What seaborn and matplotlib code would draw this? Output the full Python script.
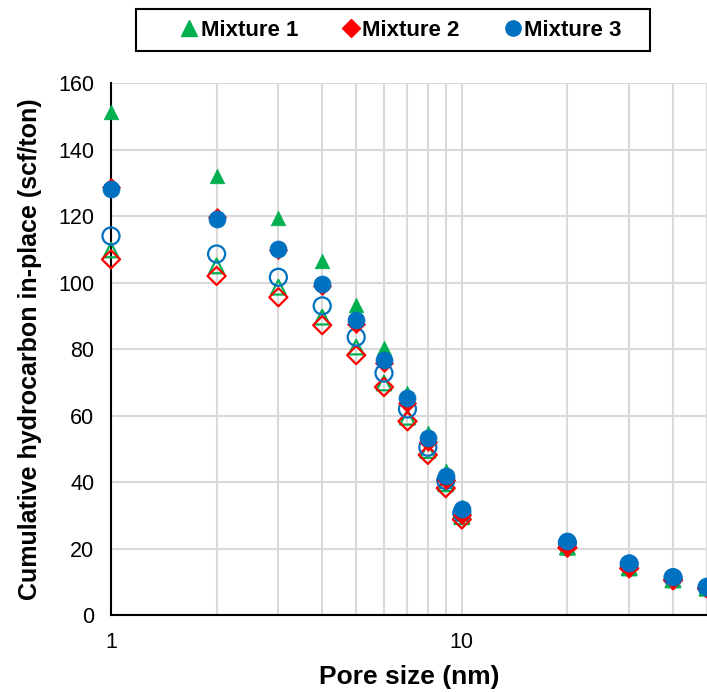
import matplotlib
matplotlib.use("Agg")
import matplotlib.pyplot as plt
import matplotlib.ticker as mticker
from matplotlib.patches import Rectangle
import pandas as pd
import seaborn as sns

# pore size (nm)
pore = [1, 2, 3, 4, 5, 6, 7, 8, 9, 10, 20, 30, 40, 50]

# filled markers (legend series)
mix1 = [151.3, 132.0, 119.4, 106.5, 93.2, 80.3, 66.8, 54.8, 43.5, 32.5, 20.6, 14.3, 10.7, 8.2]
mix2 = [128.7, 119.6, 109.8, 99.0, 87.5, 75.8, 63.7, 52.0, 40.6, 30.0, 20.6, 14.2, 10.6, 8.1]
mix3 = [128.0, 119.0, 110.0, 99.5, 88.7, 76.7, 65.2, 53.3, 41.8, 32.0, 22.2, 15.6, 11.4, 8.5]

# open markers (second case, not in legend)
mix1_open = [109.8, 105.0, 98.6, 89.6, 80.6, 69.8, 59.5, 49.5, 39.5, 29.6, 20.4, 14.2, 10.6, 8.1]
mix2_open = [107.0, 102.0, 95.6, 87.2, 78.2, 68.6, 58.3, 48.2, 38.2, 28.8, 20.3, 14.1, 10.5, 8.0]
mix3_open = [114.0, 108.6, 101.6, 93.0, 83.6, 72.8, 62.0, 50.5, 40.5, 30.7, 21.8, 15.4, 11.3, 8.4]

labels = ["Mixture 1", "Mixture 2", "Mixture 3"]
colors = ["#00B050", "#FF0000", "#0070C0"]
markers = ["^", "D", "o"]
sizes = [110, 85, 150]

sns.set_style("white")
plt.rcParams["font.family"] = ["Liberation Sans", "DejaVu Sans"]
plt.rcParams["text.color"] = "black"
plt.rcParams["xtick.color"] = "black"
plt.rcParams["ytick.color"] = "black"
plt.rcParams["axes.labelcolor"] = "black"

fig = plt.figure(figsize=(7.07, 6.92), dpi=100)
ax = fig.add_axes([0.157, 0.111, 0.843, 0.769])

filled = [mix1, mix2, mix3]
opened = [mix1_open, mix2_open, mix3_open]

for i in range(3):
    df_o = pd.DataFrame({"pore": pore, "val": opened[i]})
    sns.scatterplot(data=df_o, x="pore", y="val", ax=ax, marker=markers[i],
                    s=sizes[i], color=colors[i], facecolor="none",
                    edgecolor=colors[i], linewidth=1.6, clip_on=False,
                    zorder=3, legend=False)

handles = []
for i in range(3):
    df_f = pd.DataFrame({"pore": pore, "val": filled[i]})
    sns.scatterplot(data=df_f, x="pore", y="val", ax=ax, marker=markers[i],
                    s=sizes[i], color=colors[i], edgecolor=colors[i],
                    linewidth=0.5, clip_on=False, zorder=4, legend=False)
    handles.append(plt.Line2D([], [], linestyle="", marker=markers[i],
                              color=colors[i], markersize=11 if i != 1 else 9))

ax.set_xscale("log")
ax.set_xlim(1, 50)
ax.set_ylim(0, 160)
ax.yaxis.set_major_locator(mticker.MultipleLocator(20))
ax.xaxis.set_major_locator(mticker.LogLocator(base=10))
ax.xaxis.set_minor_locator(mticker.LogLocator(base=10, subs=range(2, 10)))
ax.xaxis.set_major_formatter(mticker.FuncFormatter(lambda v, p: f"{v:g}"))
ax.xaxis.set_minor_formatter(mticker.NullFormatter())

ax.grid(True, which="both", axis="x", color="#D9D9D9", linewidth=1.5)
ax.grid(True, which="major", axis="y", color="#D9D9D9", linewidth=1.5)
ax.set_axisbelow(True)

for side in ["top", "right"]:
    ax.spines[side].set_visible(False)
for side in ["left", "bottom"]:
    ax.spines[side].set_color("black")
    ax.spines[side].set_linewidth(1.5)

ax.tick_params(axis="both", which="both", length=0, labelsize=15.5)
ax.tick_params(axis="y", pad=12)
ax.tick_params(axis="x", pad=12)
ax.set_xlabel("Pore size (nm)", fontsize=19, fontweight="bold", labelpad=9)
ax.set_ylabel("Cumulative hydrocarbon in-place (scf/ton)", fontsize=18,
              fontweight="bold", labelpad=12)

# legend box drawn separately so it can be wider than its contents
fig.patches.append(Rectangle((0.1924, 0.9263), 0.727, 0.0607,
                             transform=fig.transFigure, fill=False,
                             edgecolor="black", linewidth=1.5))
fig.legend(handles, labels, loc="center", bbox_to_anchor=(0.5657, 0.9566),
           ncol=3, frameon=False, prop={"weight": "bold", "size": 16},
           handletextpad=0.0, columnspacing=1.9, handlelength=1.0)

fig.savefig("out.png", dpi=100)
